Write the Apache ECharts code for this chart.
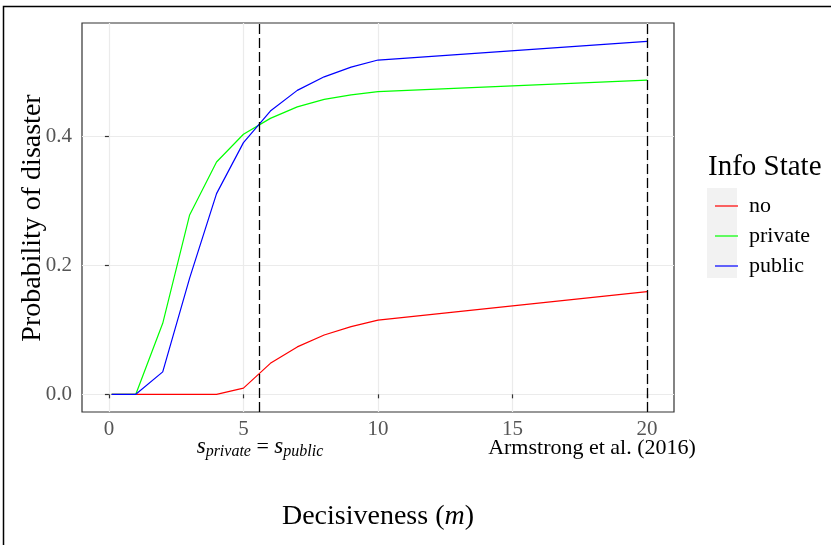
<!DOCTYPE html>
<html>
<head>
<meta charset="utf-8">
<script src="https://cdn.jsdelivr.net/npm/echarts@6/dist/echarts.min.js"></script>
<style>
  html, body { margin: 0; padding: 0; background: #fff; }
  #chart { width: 831px; height: 545px; }
</style>
</head>
<body>
<div id="chart"></div>
<script>
// decisiveness m
var mValues = [0.1, 1, 2, 3, 4, 5, 6, 7, 8, 9, 10, 20];
var noInfo = [0, 0, 0, 0, 0, 0.0096, 0.048, 0.0735, 0.092, 0.105, 0.115, 0.159];
var privateInfo = [0, 0, 0.110, 0.278, 0.360, 0.403, 0.4276, 0.4455, 0.457, 0.464, 0.469, 0.487];
var publicInfo = [0, 0, 0.0348, 0.18, 0.311, 0.390, 0.439, 0.471, 0.492, 0.507, 0.518, 0.547];
var vLines = [5.6, 20];
var xTicks = [0, 5, 10, 15, 20];
var yTicks = [0, 0.2, 0.4];

var serif = "'Liberation Serif', 'DejaVu Serif', serif";

function pairs(ys) {
  return mValues.map(function (m, i) { return [m, ys[i]]; });
}

var dom = document.getElementById('chart');
var myChart = echarts.init(dom, null, { renderer: 'canvas' });

var option = {
  animation: false,
  backgroundColor: '#fff',
  grid: {
    left: 82, top: 23, right: 157, bottom: 133,
    show: true, borderColor: '#333', borderWidth: 1.2, backgroundColor: '#fff'
  },
  xAxis: {
    type: 'value', min: -1, max: 21,
    axisLine: { show: false },
    axisTick: { show: true, length: 4, customValues: xTicks, lineStyle: { color: '#333', width: 1.2 } },
    axisLabel: {
      customValues: xTicks, color: '#555', fontSize: 21, fontFamily: serif, margin: 7,
      formatter: function (v) { return String(v); }
    },
    splitLine: { show: true, lineStyle: { color: '#EBEBEB', width: 1.2 } }
  },
  yAxis: {
    type: 'value', min: -0.0274, max: 0.5754,
    axisLine: { show: false },
    axisTick: { show: true, length: 4, customValues: yTicks, lineStyle: { color: '#333', width: 1.2 } },
    axisLabel: {
      customValues: yTicks, color: '#555', fontSize: 21, fontFamily: serif, margin: 10,
      formatter: function (v) { return v.toFixed(1); }
    },
    splitLine: { show: true, lineStyle: { color: '#EBEBEB', width: 1.2 } }
  },
  legend: {
    orient: 'vertical',
    left: 710, top: 190,
    itemWidth: 23, itemHeight: 20, itemGap: 8,
    icon: 'path://M0,9.4h23v1.2h-23z',
    data: ['no', 'private', 'public'],
    textStyle: { fontFamily: serif, fontSize: 22, color: '#000', padding: [0, 0, 0, 6] }
  },
  series: [
    {
      name: 'no', type: 'line', data: pairs(noInfo), symbol: 'none',
      itemStyle: { color: '#FF0000' }, lineStyle: { color: '#FF0000', width: 1.2 },
      markLine: {
        silent: true, symbol: 'none', label: { show: false },
        lineStyle: { color: '#000', type: [10, 4], width: 1.3 },
        data: vLines.map(function (v) { return { xAxis: v }; })
      }
    },
    {
      name: 'private', type: 'line', data: pairs(privateInfo), symbol: 'none',
      itemStyle: { color: '#00FF00' }, lineStyle: { color: '#00FF00', width: 1.2 }
    },
    {
      name: 'public', type: 'line', data: pairs(publicInfo), symbol: 'none',
      itemStyle: { color: '#0000FF' }, lineStyle: { color: '#0000FF', width: 1.2 }
    }
  ],
  graphic: [
    // outer frame
    { type: 'rect', shape: { x: 3.5, y: 6.5, width: 840, height: 560 },
      style: { fill: 'none', stroke: '#000', lineWidth: 1.5 }, z: 100 },
    // legend key background
    { type: 'rect', shape: { x: 707, y: 188, width: 30, height: 90 },
      style: { fill: '#F2F2F2' }, z: -1 },
    { type: 'text', x: 708, y: 167,
      style: { text: 'Info State', font: '29px ' + serif, fill: '#000', verticalAlign: 'middle' } },
    { type: 'text', x: 260, y: 447,
      style: {
        text: '{i|s}{sub|private}{n| = }{i|s}{sub|public}',
        align: 'center', verticalAlign: 'middle',
        rich: {
          i: { fontFamily: serif, fontStyle: 'italic', fontSize: 23, color: '#000' },
          n: { fontFamily: serif, fontSize: 22, color: '#000' },
          sub: { fontFamily: serif, fontStyle: 'italic', fontSize: 16, color: '#000', padding: [9, 0, 0, 0] }
        }
      } },
    { type: 'text', x: 592, y: 448,
      style: { text: 'Armstrong et al. (2016)', font: '22px ' + serif, fill: '#000',
        align: 'center', verticalAlign: 'middle' } },
    { type: 'text', x: 378, y: 517,
      style: {
        text: '{n|Decisiveness (}{i|m}{n|)}', align: 'center', verticalAlign: 'middle',
        rich: {
          n: { fontFamily: serif, fontSize: 28, color: '#000' },
          i: { fontFamily: serif, fontStyle: 'italic', fontSize: 28, color: '#000' }
        }
      } },
    { type: 'text', x: 33, y: 218, rotation: Math.PI / 2,
      style: { text: 'Probability of disaster', font: '28px ' + serif, fill: '#000',
        align: 'center', verticalAlign: 'middle' } }
  ]
};

if (option && typeof option === 'object') {
  myChart.setOption(option);
}
</script>
</body>
</html>
